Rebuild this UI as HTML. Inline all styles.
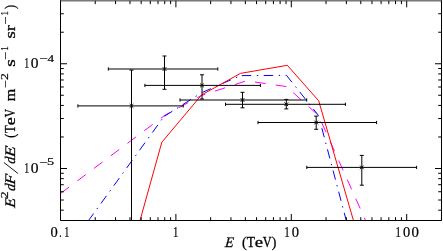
<!DOCTYPE html><html><head><meta charset="utf-8"><style>html,body{margin:0;padding:0;background:#fff;}svg{display:block;}text{font-family:"Liberation Serif",serif;fill:#000;}</style></head><body>
<svg width="443" height="251" viewBox="0 0 443 251">
<rect width="443" height="251" fill="#fff"/>
<defs><clipPath id="c"><rect x="60.5" y="0.85" width="381" height="219.65"/></clipPath></defs>
<g clip-path="url(#c)" fill="none" stroke="#ff00ff" stroke-width="1">
<path d="M60.5 193.5 L165 115.2" stroke-dasharray="10.70 10.20" stroke-dashoffset="0.00"/>
<path d="M165 115.2 L201.5 95.5" stroke-dasharray="10.70 10.20" stroke-dashoffset="5.20"/>
<path d="M201.5 95.5 L246.5 80.8" stroke-dasharray="10.70 10.20" stroke-dashoffset="6.70"/>
<path d="M246.5 80.8 L286.5 86.6" stroke-dasharray="10.70 10.20" stroke-dashoffset="12.30"/>
<path d="M286.5 86.6 L318.5 115.5" stroke-dasharray="10.70 10.20" stroke-dashoffset="11.90"/>
<path d="M318.5 115.5 L365.8 221" stroke-dasharray="10.70 10.20" stroke-dashoffset="13.30"/>
</g>
<g clip-path="url(#c)" fill="none" stroke="#0000ff" stroke-width="1">
<path d="M88.2 221 L164 116.5" stroke-dasharray="9.40 5.60 1.40 5.50" stroke-dashoffset="0.20"/>
<path d="M164 116.5 L201.5 92.8" stroke-dasharray="9.40 5.60 1.40 5.50" stroke-dashoffset="21.40"/>
<path d="M201.5 92.8 L240.5 75.6" stroke-dasharray="9.40 5.60 1.40 5.50" stroke-dashoffset="21.10"/>
<path d="M240.5 75.6 L286.5 75.4" stroke-dasharray="9.40 5.60 1.40 5.50" stroke-dashoffset="20.60"/>
<path d="M286.5 75.4 L318.5 115.5" stroke-dasharray="9.40 5.60 1.40 5.50" stroke-dashoffset="0.70"/>
<path d="M318.5 115.5 L346.4 221" stroke-dasharray="9.40 5.60 1.40 5.50" stroke-dashoffset="8.80"/>
</g>
<polyline clip-path="url(#c)" fill="none" stroke="#ff0000" stroke-width="1" stroke-linejoin="miter" points="140,220.5 161.8,142.3 201.5,95 240.4,73.4 287.3,65.3 318.7,100.8 353.6,221"/>
<g stroke="#000" stroke-width="1" fill="none">
<path d="M60.5 0.5 V220.5 H441.5 V0.5"/>
<path d="M60 0.85 H442" stroke-width="0.8"/>
<path d="M60.50 220.5 v-6.5 M60.50 0.85 v6.5"/>
<path d="M95.24 220.5 v-3.3 M95.24 0.85 v3.3"/>
<path d="M115.56 220.5 v-3.3 M115.56 0.85 v3.3"/>
<path d="M129.98 220.5 v-3.3 M129.98 0.85 v3.3"/>
<path d="M141.16 220.5 v-3.3 M141.16 0.85 v3.3"/>
<path d="M150.30 220.5 v-3.3 M150.30 0.85 v3.3"/>
<path d="M158.02 220.5 v-3.3 M158.02 0.85 v3.3"/>
<path d="M164.72 220.5 v-3.3 M164.72 0.85 v3.3"/>
<path d="M170.62 220.5 v-3.3 M170.62 0.85 v3.3"/>
<path d="M175.90 220.5 v-6.5 M175.90 0.85 v6.5"/>
<path d="M210.64 220.5 v-3.3 M210.64 0.85 v3.3"/>
<path d="M230.96 220.5 v-3.3 M230.96 0.85 v3.3"/>
<path d="M245.38 220.5 v-3.3 M245.38 0.85 v3.3"/>
<path d="M256.56 220.5 v-3.3 M256.56 0.85 v3.3"/>
<path d="M265.70 220.5 v-3.3 M265.70 0.85 v3.3"/>
<path d="M273.42 220.5 v-3.3 M273.42 0.85 v3.3"/>
<path d="M280.12 220.5 v-3.3 M280.12 0.85 v3.3"/>
<path d="M286.02 220.5 v-3.3 M286.02 0.85 v3.3"/>
<path d="M291.30 220.5 v-6.5 M291.30 0.85 v6.5"/>
<path d="M326.04 220.5 v-3.3 M326.04 0.85 v3.3"/>
<path d="M346.36 220.5 v-3.3 M346.36 0.85 v3.3"/>
<path d="M360.78 220.5 v-3.3 M360.78 0.85 v3.3"/>
<path d="M371.96 220.5 v-3.3 M371.96 0.85 v3.3"/>
<path d="M381.10 220.5 v-3.3 M381.10 0.85 v3.3"/>
<path d="M388.82 220.5 v-3.3 M388.82 0.85 v3.3"/>
<path d="M395.52 220.5 v-3.3 M395.52 0.85 v3.3"/>
<path d="M401.42 220.5 v-3.3 M401.42 0.85 v3.3"/>
<path d="M406.70 220.5 v-6.5 M406.70 0.85 v6.5"/>
<path d="M441.44 220.5 v-3.3 M441.44 0.85 v3.3"/>
<path d="M60.5 210.18 h3.3 M441.5 210.18 h-3.3"/>
<path d="M60.5 200.03 h3.3 M441.5 200.03 h-3.3"/>
<path d="M60.5 191.74 h3.3 M441.5 191.74 h-3.3"/>
<path d="M60.5 184.73 h3.3 M441.5 184.73 h-3.3"/>
<path d="M60.5 178.65 h3.3 M441.5 178.65 h-3.3"/>
<path d="M60.5 173.29 h3.3 M441.5 173.29 h-3.3"/>
<path d="M60.5 168.50 h6.5 M441.5 168.50 h-6.5"/>
<path d="M60.5 136.97 h3.3 M441.5 136.97 h-3.3"/>
<path d="M60.5 118.52 h3.3 M441.5 118.52 h-3.3"/>
<path d="M60.5 105.43 h3.3 M441.5 105.43 h-3.3"/>
<path d="M60.5 95.28 h3.3 M441.5 95.28 h-3.3"/>
<path d="M60.5 86.99 h3.3 M441.5 86.99 h-3.3"/>
<path d="M60.5 79.98 h3.3 M441.5 79.98 h-3.3"/>
<path d="M60.5 73.90 h3.3 M441.5 73.90 h-3.3"/>
<path d="M60.5 68.54 h3.3 M441.5 68.54 h-3.3"/>
<path d="M60.5 63.75 h6.5 M441.5 63.75 h-6.5"/>
<path d="M60.5 32.22 h3.3 M441.5 32.22 h-3.3"/>
<path d="M60.5 13.77 h3.3 M441.5 13.77 h-3.3"/>
</g>
<g stroke="#000" stroke-width="1" fill="none" clip-path="url(#c)">
<path d="M77.9 105.9 H183.2 M131.5 70.1 V221"/>
<path d="M77.9 104.3 v3.2 M183.2 104.3 v3.2 M129.5 70.1 h4 M129.5 221 h4"/>
<path d="M129.7 104.1 l3.6 3.6 M129.7 107.7 l3.6 -3.6"/>
<path d="M108.3 69 H217.8 M164.5 56 V89.3"/>
<path d="M108.3 67.4 v3.2 M217.8 67.4 v3.2 M162.5 56 h4 M162.5 89.3 h4"/>
<path d="M162.7 67.2 l3.6 3.6 M162.7 70.8 l3.6 -3.6"/>
<path d="M144.9 85.4 H260.4 M202 74.8 V99"/>
<path d="M144.9 83.8 v3.2 M260.4 83.8 v3.2 M200 74.8 h4 M200 99 h4"/>
<path d="M200.2 83.6 l3.6 3.6 M200.2 87.2 l3.6 -3.6"/>
<path d="M180 100 H306.7 M242.5 92.3 V107.8"/>
<path d="M180 98.4 v3.2 M306.7 98.4 v3.2 M240.5 92.3 h4 M240.5 107.8 h4"/>
<path d="M240.7 98.2 l3.6 3.6 M240.7 101.8 l3.6 -3.6"/>
<path d="M225.5 104.3 H345.4 M286.3 99.4 V108.9"/>
<path d="M225.5 102.7 v3.2 M345.4 102.7 v3.2 M284.3 99.4 h4 M284.3 108.9 h4"/>
<path d="M284.5 102.5 l3.6 3.6 M284.5 106.1 l3.6 -3.6"/>
<path d="M258 122.5 H376.6 M316.2 116.1 V129.3"/>
<path d="M258 120.9 v3.2 M376.6 120.9 v3.2 M314.2 116.1 h4 M314.2 129.3 h4"/>
<path d="M314.4 120.7 l3.6 3.6 M314.4 124.3 l3.6 -3.6"/>
<path d="M306.8 167.4 H416.6 M361.8 155.4 V185.2"/>
<path d="M306.8 165.8 v3.2 M416.6 165.8 v3.2 M359.8 155.4 h4 M359.8 185.2 h4"/>
<path d="M360 165.6 l3.6 3.6 M360 169.2 l3.6 -3.6"/>
</g>
<g style="opacity:0.999" stroke="#000" stroke-width="0.22">
<text transform="translate(50.95,237.30) scale(1.033,1)" x="-0.50" y="0" font-size="14.1">0</text>
<text transform="translate(59.90,237.30) scale(0.706,1)" x="-0.90" y="0" font-size="14.1">.</text>
<text transform="translate(65.20,237.30) scale(0.720,1)" x="-1.20" y="0" font-size="14.1">1</text>
<text transform="translate(174.00,237.30) scale(0.760,1)" x="-1.20" y="0" font-size="14.1">1</text>
<text transform="translate(285.10,237.30) scale(0.780,1)" x="-1.20" y="0" font-size="14.1">1</text>
<text transform="translate(292.25,237.30) scale(1.033,1)" x="-0.50" y="0" font-size="14.1">0</text>
<text transform="translate(396.40,237.30) scale(0.760,1)" x="-1.20" y="0" font-size="14.1">1</text>
<text transform="translate(403.50,237.30) scale(1.017,1)" x="-0.50" y="0" font-size="14.1">0</text>
<text transform="translate(411.90,237.30) scale(1.050,1)" x="-0.50" y="0" font-size="14.1">0</text>
<text transform="translate(25.00,68.20) scale(0.700,1)" x="-1.20" y="0" font-size="14.1">1</text>
<text transform="translate(31.30,68.20) scale(1.100,1)" x="-0.50" y="0" font-size="14.1">0</text>
<text transform="translate(40.10,62.00) scale(1.327,1)" x="-0.60" y="0" font-size="11.2">−</text>
<text transform="translate(47.60,62.00) scale(1.173,1)" x="-0.20" y="0" font-size="11.2">4</text>
<text transform="translate(25.00,172.75) scale(0.700,1)" x="-1.20" y="0" font-size="14.1">1</text>
<text transform="translate(31.30,172.75) scale(1.100,1)" x="-0.50" y="0" font-size="14.1">0</text>
<text transform="translate(40.10,166.00) scale(1.327,1)" x="-0.60" y="0" font-size="11.2">−</text>
<text transform="translate(47.80,165.40) scale(1.267,1)" x="-0.70" y="0" font-size="11.2">5</text>
<text transform="translate(224.50,247.40) scale(0.966,1) skewX(-6)" x="0.20" y="0" font-size="14.6" font-style="italic" stroke-width="0.3">E</text>
<text transform="translate(242.60,247.00) scale(0.974,1)" x="-0.60" y="0" font-size="14.6" stroke-width="0.3">(</text>
<text transform="translate(247.00,247.40) scale(0.917,1)" x="-0.30" y="0" font-size="14.6" stroke-width="0.3">T</text>
<text transform="translate(255.60,247.40) scale(1.278,1)" x="-0.60" y="0" font-size="14.6" stroke-width="0.3">e</text>
<text transform="translate(263.00,247.40) scale(0.843,1)" x="-0.20" y="0" font-size="14.6" stroke-width="0.3">V</text>
<text transform="translate(272.20,247.00) scale(0.946,1)" x="-0.50" y="0" font-size="14.6" stroke-width="0.3">)</text>
<text transform="translate(15.00,208.30) rotate(-90) scale(1.101,1) skewX(-6)" x="0.20" y="0" font-size="14.6" font-style="italic" stroke-width="0.3">E</text>
<text transform="translate(8.20,197.50) rotate(-90) scale(1.317,1)" x="-0.50" y="0" font-size="10.4">2</text>
<text transform="translate(15.00,190.90) rotate(-90) scale(0.986,1) skewX(-6)" x="-0.40" y="0" font-size="14.6" font-style="italic" stroke-width="0.3">d</text>
<text transform="translate(15.00,184.80) rotate(-90) scale(1.132,1) skewX(-6)" x="0.10" y="0" font-size="14.6" font-style="italic" stroke-width="0.3">F</text>
<text transform="translate(15.00,163.60) rotate(-90) scale(0.928,1) skewX(-6)" x="-0.40" y="0" font-size="14.6" font-style="italic" stroke-width="0.3">d</text>
<text transform="translate(15.00,157.80) rotate(-90) scale(1.236,1) skewX(-6)" x="0.20" y="0" font-size="14.6" font-style="italic" stroke-width="0.3">E</text>
<text transform="translate(14.70,137.30) rotate(-90) scale(0.816,1)" x="-0.60" y="0" font-size="14.6" stroke-width="0.3">(</text>
<text transform="translate(15.00,132.70) rotate(-90) scale(0.869,1)" x="-0.30" y="0" font-size="14.6" stroke-width="0.3">T</text>
<text transform="translate(15.00,124.50) rotate(-90) scale(1.241,1)" x="-0.60" y="0" font-size="14.6" stroke-width="0.3">e</text>
<text transform="translate(15.00,117.10) rotate(-90) scale(0.784,1)" x="-0.20" y="0" font-size="14.6" stroke-width="0.3">V</text>
<text transform="translate(15.00,100.90) rotate(-90) scale(1.102,1)" x="-0.30" y="0" font-size="14.6" stroke-width="0.3">m</text>
<text transform="translate(9.10,87.00) rotate(-90) scale(1.354,1)" x="-0.50" y="0" font-size="10.4">−</text>
<text transform="translate(8.20,79.30) rotate(-90) scale(1.317,1)" x="-0.50" y="0" font-size="10.4">2</text>
<text transform="translate(15.00,65.90) rotate(-90) scale(1.326,1)" x="-0.60" y="0" font-size="14.6" stroke-width="0.3">s</text>
<text transform="translate(9.10,58.70) rotate(-90) scale(1.396,1)" x="-0.50" y="0" font-size="10.4">−</text>
<text transform="translate(8.20,50.00) rotate(-90) scale(0.865,1)" x="-0.90" y="0" font-size="10.4">1</text>
<text transform="translate(15.00,37.70) rotate(-90) scale(1.283,1)" x="-0.60" y="0" font-size="14.6" stroke-width="0.3">s</text>
<text transform="translate(15.00,31.00) rotate(-90) scale(1.250,1)" x="-0.30" y="0" font-size="14.6" stroke-width="0.3">r</text>
<text transform="translate(9.10,23.50) rotate(-90) scale(1.396,1)" x="-0.50" y="0" font-size="10.4">−</text>
<text transform="translate(8.20,14.80) rotate(-90) scale(0.865,1)" x="-0.90" y="0" font-size="10.4">1</text>
<text transform="translate(14.70,8.60) rotate(-90) scale(0.838,1)" x="-0.50" y="0" font-size="14.6" stroke-width="0.3">)</text>
</g>
<path d="M17.9 173.4 L3.9 162.5" stroke="#000" stroke-width="0.9" fill="none"/>
</svg></body></html>
